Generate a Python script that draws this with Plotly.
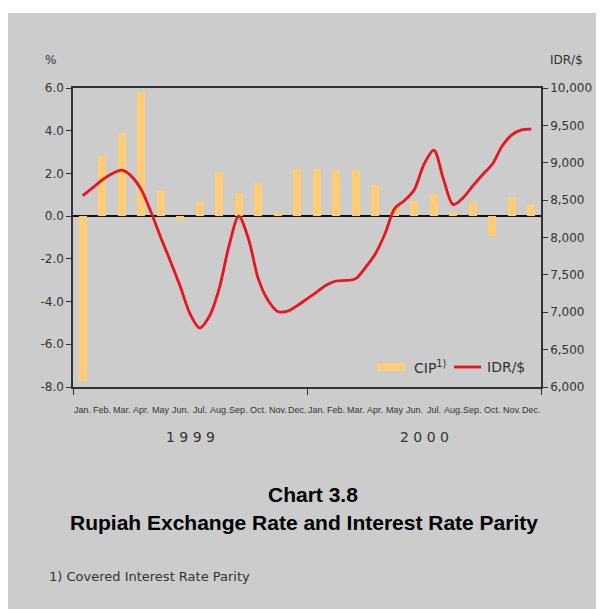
import plotly.graph_objects as go

# ---- data ----
months = ["Jan.", "Feb.", "Mar.", "Apr.", "May", "Jun.", "Jul.", "Aug.", "Sep.", "Oct.", "Nov.", "Dec."]
month_labels = months + months
years = ["1999", "2000"]

cip_1999 = [-7.7, 2.8, 3.9, 5.8, 1.2, -0.2, 0.65, 2.05, 1.07, 1.54, 0.19, 2.19]
cip_2000 = [2.19, 2.15, 2.15, 1.45, 0.42, 0.70, 1.03, 0.19, 0.65, -0.92, 0.89, 0.50]
cip = cip_1999 + cip_2000

# IDR/$ sampled twice a month (Jan 1999 .. Dec 2000)
idr_half_month = [8560, 8664, 8770, 8853, 8900, 8818, 8640, 8340, 8000, 7680,
                  7345, 6980, 6790, 6950, 7320, 7888, 8284, 7980, 7450, 7160,
                  7010, 7015, 7088, 7180, 7270, 7365, 7418, 7425, 7450, 7600,
                  7780, 8050, 8390, 8495, 8640, 8980, 9170, 8780, 8440, 8530,
                  8690, 8840, 8980, 9220, 9373, 9440, 9450]

left_ticks = [-8, -6, -4, -2, 0, 2, 4, 6]
right_ticks = [6000, 6500, 7000, 7500, 8000, 8500, 9000, 9500, 10000]

month_pos = list(range(len(cip)))
idr_pos = [i * 0.5 for i in range(len(idr_half_month))]

GREY = "#CCCCCC"
PLOT_BG = "#E8EBF6"
BAR = "#FFCC77"
RED = "#E8141E"
TXT = "#333333"
FONT = "DejaVu Sans"

fig = go.Figure()
fig.add_trace(go.Bar(x=month_pos, y=cip, width=0.42, marker=dict(color=BAR, line=dict(width=0)),
                     name="CIP", showlegend=False, yaxis="y"))
fig.add_trace(go.Scatter(x=idr_pos, y=idr_half_month, mode="lines",
                         line=dict(color=RED, width=2.8, shape="spline", smoothing=0.9),
                         name="IDR/$", showlegend=False, yaxis="y2"))

OFF = 8  # page body margin
W, H = 604 - OFF, 609 - OFF
L = 73 - OFF
T = 88 - OFF
R = W - (541 - OFF)
B = H - (387 - OFF)
pw, ph = W - L - R, H - T - B


def px(x):
    return (x - OFF - L) / pw


def py(y):
    return (H - B - (y - OFF)) / ph


shapes = [
    dict(type="rect", xref="paper", yref="paper", x0=px(8), x1=px(610), y0=py(615), y1=py(13),
         fillcolor=GREY, line=dict(width=0), layer="below"),
    dict(type="rect", xref="paper", yref="paper", x0=px(377), x1=px(405), y0=py(371), y1=py(363),
         fillcolor=BAR, line=dict(width=0)),
    dict(type="line", xref="paper", yref="paper", x0=px(454), x1=px(481), y0=py(367), y1=py(367),
         line=dict(color=RED, width=2.8)),
]


def note(x, y, text, size, xref="paper", xanchor="center", family=FONT, color=TXT):
    return dict(x=x, y=y, xref=xref, yref="paper", text=text, showarrow=False,
                xanchor=xanchor, yanchor="middle",
                font=dict(family=family, size=size, color=color))


annotations = []
for i, m in enumerate(month_labels):
    annotations.append(note(month_pos[i], py(410), m, 9, xref="x", family="Liberation Sans"))
for k, yr in enumerate(years):
    annotations.append(note(5.5 + 12 * k, py(437), "&nbsp;".join(yr), 14, xref="x"))
annotations += [
    note(px(50), py(60), "%", 12),
    note(px(566), py(60), "IDR/$", 12),
    note(px(412), py(367), "CIP<sup>1)</sup>", 14, xanchor="left"),
    note(px(485), py(367), "IDR/$", 14, xanchor="left"),
    note(px(313), py(494), "<b>Chart 3.8</b>", 21, family="Liberation Sans", color="#000000"),
    note(px(304), py(522), "<b>Rupiah Exchange Rate and Interest Rate Parity</b>", 21,
         family="Liberation Sans", color="#000000"),
    note(px(47), py(576), "1) Covered Interest Rate Parity", 13, xanchor="left"),
]

fig.update_layout(
    width=W, height=H,
    margin=dict(l=L, r=R, t=T, b=B, pad=0),
    paper_bgcolor="white",
    plot_bgcolor=PLOT_BG,
    bargap=0,
    shapes=shapes,
    annotations=annotations,
    font=dict(family=FONT, color=TXT),
    xaxis=dict(range=[-0.5, 23.5], tickvals=[-0.5, 11.5, 23.5], showticklabels=False,
               ticks="outside", ticklen=6, tickcolor=TXT, showline=True, linecolor=TXT,
               linewidth=1.5, mirror=True, showgrid=False, zeroline=False),
    yaxis=dict(range=[-8, 6], tickvals=left_ticks, ticktext=["%.1f" % v for v in left_ticks],
               ticks="outside", ticklen=5,
               tickcolor=TXT, showline=True, linecolor=TXT, linewidth=1.5, showgrid=False,
               zeroline=True, zerolinecolor="#111111", zerolinewidth=1.5,
               tickfont=dict(family=FONT, size=12, color=TXT)),
    yaxis2=dict(range=[6000, 10000], tickvals=right_ticks,
                ticktext=["{:,}".format(v) for v in right_ticks], overlaying="y", side="right",
                ticks="outside", ticklen=5, tickcolor=TXT, showline=True, linecolor=TXT,
                linewidth=1.5, showgrid=False, zeroline=False,
                tickfont=dict(family=FONT, size=12, color=TXT)),
)

fig.write_html("out.html")
